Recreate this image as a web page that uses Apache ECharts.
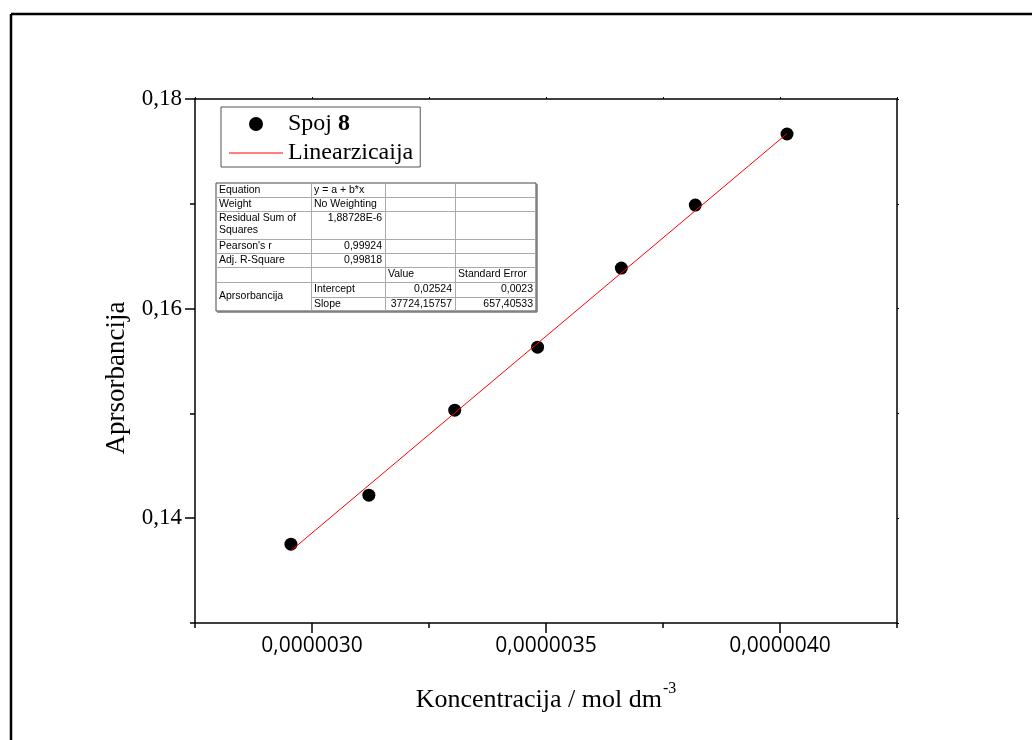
<!DOCTYPE html>
<html>
<head>
<meta charset="utf-8">
<script src="https://cdn.jsdelivr.net/npm/echarts@6/dist/echarts.min.js"></script>
<style>html,body{margin:0;padding:0;background:#fff;}#c{width:1032px;height:740px;}</style>
</head>
<body>
<div id="c"></div>
<script>
// ---- data ----
const xValues = [2.955e-6, 3.1215e-6, 3.305e-6, 3.482e-6, 3.661e-6, 3.819e-6, 4.015e-6];
const yValues = [0.13752, 0.14220, 0.15031, 0.15632, 0.16387, 0.16988, 0.17666];
const fitX = [2.955e-6, 4.015e-6];
const fitY = [0.1369, 0.1767];
const xMajorTicks = [3.0e-6, 3.5e-6, 4.0e-6];
const yMajorTicks = [0.14, 0.16, 0.18];
const seriesNames = ['Spoj 8', 'Linearzicaija'];
const yTitle = 'Aprsorbancija';
const tableRows = [
  ['Equation', 'y = a + b*x', '', ''],
  ['Weight', 'No Weighting', '', ''],
  ['Residual Sum of\nSquares', '1,88728E-6', '', ''],
  ["Pearson's r", '0,99924', '', ''],
  ['Adj. R-Square', '0,99818', '', ''],
  ['', '', 'Value', 'Standard Error'],
  ['Aprsorbancija', 'Intercept', '0,02524', '0,0023'],
  ['', 'Slope', '37724,15757', '657,40533']
];

const serif = '"Liberation Serif","Times New Roman",serif';
const sans = '"Liberation Sans",Arial,sans-serif';

// ---- table graphic ----
const colX = [216, 311, 385, 455, 536];
const rowY = [183, 197, 211, 239, 253, 267, 282, 297, 311];
const g = [];
g.push({type:'rect', shape:{x:colX[0], y:rowY[0], width:colX[4]-colX[0], height:rowY[8]-rowY[0]}, style:{fill:'#fff', stroke:'#444', lineWidth:1}, z:10});
g.push({type:'line', shape:{x1:colX[4]+1, y1:rowY[0]+1, x2:colX[4]+1, y2:rowY[8]+1}, style:{stroke:'#777', lineWidth:1.5}, z:10});
g.push({type:'line', shape:{x1:colX[0]+1, y1:rowY[8]+1, x2:colX[4]+1, y2:rowY[8]+1}, style:{stroke:'#777', lineWidth:1.5}, z:10});
for (let r = 1; r < rowY.length - 1; r++) {
  const startX = (r === 7) ? colX[1] : colX[0];
  g.push({type:'line', shape:{x1:startX, y1:rowY[r]+0.5, x2:colX[4], y2:rowY[r]+0.5}, style:{stroke:'#aaa', lineWidth:1}, z:10});
}
for (let c = 1; c < colX.length - 1; c++) {
  g.push({type:'line', shape:{x1:colX[c]+0.5, y1:rowY[0], x2:colX[c]+0.5, y2:rowY[8]}, style:{stroke:'#aaa', lineWidth:1}, z:10});
}
tableRows.forEach((row, r) => {
  row.forEach((txt, c) => {
    if (!txt) return;
    const isNum = /^[0-9]/.test(txt) && !(c === 1 && r < 2);
    let y = rowY[r] + 1.5;
    let vAlign = 'top';
    if (c === 0 && r === 6) { y = (rowY[6] + rowY[8]) / 2; vAlign = 'middle'; }
    g.push({
      type:'text', z:11,
      style:{
        text: txt,
        x: isNum ? colX[c+1] - 3 : colX[c] + 3,
        y: y,
        align: isNum ? 'right' : 'left',
        verticalAlign: vAlign,
        font: '10.5px ' + sans,
        fill: '#000',
        lineHeight: 12
      }
    });
  });
});
// y axis title
g.push({type:'text', x:117, y:378, rotation:Math.PI/2, style:{text:yTitle, align:'center', verticalAlign:'middle', font:'27px ' + serif, fill:'#000'}});
// outer figure frame (top & left)
g.push({type:'line', shape:{x1:11, y1:14, x2:1032, y2:14}, style:{stroke:'#000', lineWidth:2.5}});
g.push({type:'line', shape:{x1:11, y1:14, x2:11, y2:740}, style:{stroke:'#000', lineWidth:2.5}});

const chart = echarts.init(document.getElementById('c'));
const xFmt = v => v.toFixed(7).replace('.', ',');
const yFmt = v => v.toFixed(2).replace('.', ',');
const axisLineStyle = {color:'#000', width:1.5};
const xMin = 2.75e-6, xMax = 4.25e-6, xInt = 0.25e-6;
const yMin = 0.13, yMax = 0.18, yInt = 0.01;

chart.setOption({
  animation: false,
  backgroundColor: '#fff',
  grid: {left:195, right:135, top:99, bottom:117, show:false},
  legend: {
    orient: 'vertical', left: 221, top: 107,
    padding: [4, 7, 1, 8], itemGap: 3,
    itemWidth: 54, itemHeight: 14,
    borderColor: '#555', borderWidth: 1,
    data: [
      {name: seriesNames[0], icon: 'circle'},
      {name: seriesNames[1], icon: 'path://M0,0H54V1H0Z'}
    ],
    formatter: name => name === seriesNames[0] ? '{n|Spoj }{b|8}' : '{n|' + name + '}',
    textStyle: {
      color:'#000', fontFamily: serif, fontSize: 24, lineHeight: 26,
      rich: {n:{fontFamily: serif, fontSize: 24, lineHeight: 26, color:'#000'}, b:{fontFamily: serif, fontSize: 24, lineHeight: 26, fontWeight:'bold', color:'#000'}}
    }
  },
  xAxis: [
    {
      type:'value', position:'bottom', min:xMin, max:xMax, interval:xInt,
      axisLine:{show:true, onZero:false, lineStyle:axisLineStyle},
      axisTick:{show:true, length:5, lineStyle:{color:'#000', width:1.5}},
      axisLabel:{customValues: xMajorTicks, formatter: xFmt, color:'#000', fontFamily:'"Open Sans","Noto Sans",sans-serif', fontSize:21, margin:13},
      splitLine:{show:false},
      name: '{t|Koncentracija / mol dm}{s|-3}',
      nameLocation:'middle', nameGap: 58,
      nameTextStyle:{rich:{t:{fontFamily:serif, fontSize:26, color:'#000', verticalAlign:'bottom'}, s:{fontFamily:serif, fontSize:16, color:'#000', verticalAlign:'top', padding:[0,0,16,1]}}}
    },
    {
      type:'value', position:'bottom', min:xMin, max:xMax,
      axisLine:{show:false, onZero:false},
      axisTick:{show:true, length:10, customValues: xMajorTicks, lineStyle:{color:'#000', width:1.5}},
      axisLabel:{show:false}, splitLine:{show:false}
    },
    {
      type:'value', position:'top', min:xMin, max:xMax, interval:xInt,
      axisLine:{show:true, onZero:false, lineStyle:axisLineStyle},
      axisTick:{show:true, length:2, lineStyle:{color:'#000', width:1}},
      axisLabel:{show:false}, splitLine:{show:false}
    }
  ],
  yAxis: [
    {
      type:'value', position:'left', min:yMin, max:yMax, interval:yInt,
      axisLine:{show:true, onZero:false, lineStyle:axisLineStyle},
      axisTick:{show:true, length:5, lineStyle:{color:'#000', width:1.5}},
      axisLabel:{customValues: yMajorTicks, formatter: yFmt, color:'#000', fontFamily:serif, fontSize:23, margin:13},
      splitLine:{show:false}
    },
    {
      type:'value', position:'left', min:yMin, max:yMax,
      axisLine:{show:false, onZero:false},
      axisTick:{show:true, length:10, customValues: yMajorTicks, lineStyle:{color:'#000', width:1.5}},
      axisLabel:{show:false}, splitLine:{show:false}
    },
    {
      type:'value', position:'right', min:yMin, max:yMax, interval:yInt,
      axisLine:{show:true, onZero:false, lineStyle:axisLineStyle},
      axisTick:{show:true, length:2, lineStyle:{color:'#000', width:1}},
      axisLabel:{show:false}, splitLine:{show:false}
    }
  ],
  series: [
    {
      name: seriesNames[0], type:'scatter', xAxisIndex:0, yAxisIndex:0,
      symbol:'circle', symbolSize:13, itemStyle:{color:'#000', opacity:1},
      data: xValues.map((x, i) => [x, yValues[i]]), z:5
    },
    {
      name: seriesNames[1], type:'line', xAxisIndex:0, yAxisIndex:0,
      symbol:'none', showSymbol:false, lineStyle:{color:'#ff0000', width:1}, itemStyle:{color:'#ff0000'},
      data: fitX.map((x, i) => [x, fitY[i]]), z:6
    }
  ],
  graphic: g
});
</script>
</body>
</html>
